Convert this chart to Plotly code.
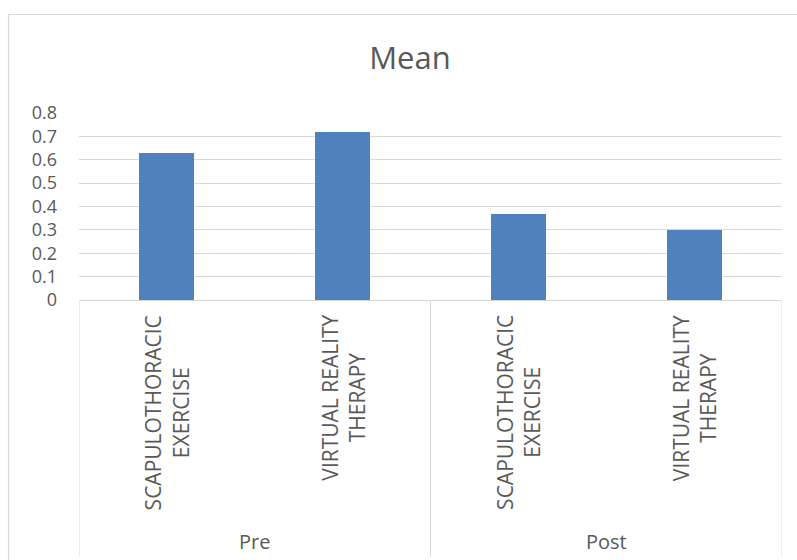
import plotly.graph_objects as go

# ---- data ----
chart_title = "Mean"
groups = ["Pre", "Pre", "Post", "Post"]
sub_labels = [
    "SCAPULOTHORACIC<br>EXERCISE",
    "VIRTUAL REALITY<br>THERAPY",
    "SCAPULOTHORACIC<br>EXERCISE",
    "VIRTUAL REALITY<br>THERAPY",
]
means = [0.63, 0.72, 0.37, 0.30]
y_tick_vals = [0, 0.1, 0.2, 0.3, 0.4, 0.5, 0.6, 0.7, 0.8]
y_tick_text = ["0", "0.1", "0.2", "0.3", "0.4", "0.5", "0.6", "0.7", "0.8"]

# ---- styling ----
FONT = "Open Sans"
TEXT = "#595959"
GRID = "#D9D9D9"
BAR = "#4F81BD"
W, H = 797, 560
ML, MR, MT, MB = 79, 15, 113, 260
plot_h = H - MT - MB
plot_w = W - ML - MR

keys = [f"{g} | {s.replace('<br>', ' ')}" for g, s in zip(groups, sub_labels)]

fig = go.Figure(
    go.Bar(
        x=keys,
        y=means,
        marker=dict(color=BAR, line=dict(width=0)),
        width=0.313,
        hoverinfo="skip",
    )
)

annotations = []
# sub-category labels (rotated)
for k, lab in zip(keys, sub_labels):
    annotations.append(
        dict(
            x=k, xref="x", y=0, yref="paper",
            yanchor="top", xanchor="center", yshift=-13,
            text=lab, textangle=-90, showarrow=False, align="center",
            font=dict(family=FONT, size=21, color=TEXT),
        )
    )

# group labels
group_names = []
for g in groups:
    if g not in group_names:
        group_names.append(g)
for g in group_names:
    idx = [i for i, gg in enumerate(groups) if gg == g]
    annotations.append(
        dict(
            x=sum(idx) / len(idx), xref="x", y=0, yref="paper",
            yanchor="middle", xanchor="center", yshift=-241,
            text=g, showarrow=False,
            font=dict(family=FONT, size=20, color=TEXT),
        )
    )

shapes = []
# group separators
bounds = [-0.5]
for i in range(1, len(groups)):
    if groups[i] != groups[i - 1]:
        bounds.append(i - 0.5)
bounds.append(len(groups) - 0.5)
sep_bottom = -(557 - (H - MB)) / plot_h
for b in bounds:
    shapes.append(
        dict(type="line", xref="x", yref="paper", x0=b, x1=b, y0=0, y1=sep_bottom,
             line=dict(color=GRID, width=1))
    )
# outer chart border (extends beyond the visible frame on right/bottom)
bx0 = (8.5 - ML) / plot_w
by1 = 1 + (MT - 14.5) / plot_h
shapes.append(
    dict(type="rect", xref="paper", yref="paper", x0=bx0, x1=1.2, y0=-3, y1=by1,
         line=dict(color=GRID, width=1.2), fillcolor="rgba(0,0,0,0)", layer="below")
)

fig.update_layout(
    width=W, height=H,
    margin=dict(l=ML, r=MR, t=MT, b=MB, pad=0),
    paper_bgcolor="white", plot_bgcolor="white",
    showlegend=False,
    bargap=0,
    title=dict(
        text=chart_title, x=410 / W, xref="container", xanchor="center",
        y=1 - 58 / H, yref="container", yanchor="middle",
        font=dict(family=FONT, size=31, color=TEXT),
    ),
    xaxis=dict(
        type="category", categoryorder="array", categoryarray=keys,
        range=[-0.5, len(keys) - 0.5],
        showticklabels=False, ticks="", showgrid=False,
        showline=True, linecolor=GRID, linewidth=1, zeroline=False,
        fixedrange=True,
    ),
    yaxis=dict(
        range=[0, 0.8], tickvals=y_tick_vals, ticktext=y_tick_text,
        showgrid=True, gridcolor=GRID, gridwidth=1,
        zeroline=False, showline=False, ticks="",
        ticklabelstandoff=21,
        tickfont=dict(family=FONT, size=18, color=TEXT),
        fixedrange=True,
    ),
    annotations=annotations,
    shapes=shapes,
)

fig.write_html("out.html")
